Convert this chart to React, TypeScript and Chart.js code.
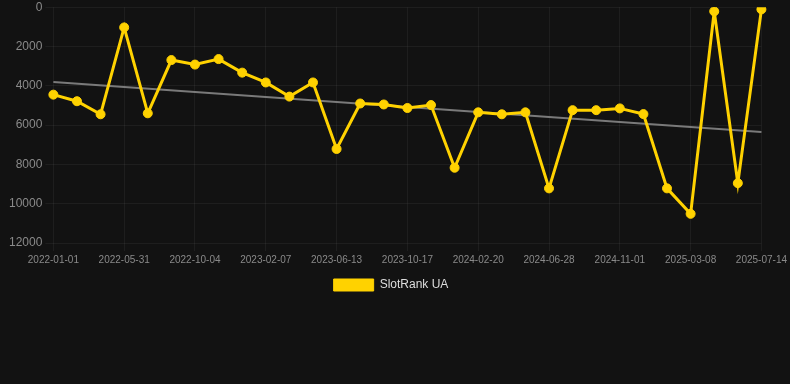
import React, { useEffect, useRef } from "react";
import { Chart, registerables } from "chart.js";

Chart.register(...registerables);

const labels: string[] = [
  "2022-01-01", "2022-02-19", "2022-04-10", "2022-05-31", "2022-07-12", "2022-08-23",
  "2022-10-04", "2022-11-15", "2022-12-27", "2023-02-07", "2023-03-21", "2023-05-02",
  "2023-06-13", "2023-07-25", "2023-09-05", "2023-10-17", "2023-11-28", "2024-01-09",
  "2024-02-20", "2024-04-02", "2024-05-14", "2024-06-28", "2024-08-09", "2024-09-20",
  "2024-11-01", "2024-12-13", "2025-01-24", "2025-03-08", "2025-04-19", "2025-05-31",
  "2025-07-14",
];

const rankValues: number[] = [
  4450, 4785, 5450, 1030, 5400, 2690, 2920, 2640, 3330, 3830, 4550, 3830,
  7215, 4900, 4950, 5130, 4980, 8170, 5350, 5450, 5350, 9220, 5240, 5240,
  5150, 5440, 9220, 10515, 210, 8955, 110,
];

const trendStart = 3805;
const trendEnd = 6350;
const trendValues: (number | null)[] = labels.map((_, i) =>
  i === 0 ? trendStart : i === labels.length - 1 ? trendEnd : null
);

const yTicks = { min: 0, max: 12000, step: 2000 };

const FONT = "Arial, 'Liberation Sans', sans-serif";

export default function App() {
  const ref = useRef<HTMLCanvasElement | null>(null);

  useEffect(() => {
    document.body.style.margin = "0";
    document.body.style.background = "#121212";
    const canvas = ref.current;
    if (!canvas) return;
    const defaultGen = (Chart.defaults.plugins.legend.labels as any).generateLabels;
    const chart = new Chart(canvas, {
      type: "line",
      data: {
        labels,
        datasets: [
          {
            label: "SlotRank UA",
            data: rankValues,
            borderColor: "#FFD200",
            backgroundColor: "#FFD200",
            borderWidth: 3,
            pointRadius: 4.5,
            pointHoverRadius: 4.5,
            pointBorderWidth: 1,
            pointBackgroundColor: "#FFD200",
            pointBorderColor: "#FFD200",
            tension: 0,
            order: 0,
          },
          {
            label: "Trend",
            data: trendValues,
            borderColor: "#7a7a7a",
            backgroundColor: "#7a7a7a",
            borderWidth: 2,
            pointRadius: 0,
            spanGaps: true,
            order: 1,
          },
        ],
      },
      options: {
        animation: false,
        responsive: true,
        maintainAspectRatio: false,
        layout: { padding: { left: 6, right: 14, top: 0, bottom: 0 } },
        scales: {
          x: {
            grid: { color: "rgba(255,255,255,0.05)" },
            border: { display: false },
            ticks: {
              autoSkip: false,
              maxRotation: 0,
              color: "#8a8a8a",
              font: { size: 10, family: FONT },
              callback: (_v: any, i: number) => (i % 3 === 0 ? labels[i] : null),
            },
          },
          y: {
            reverse: true,
            min: yTicks.min,
            max: yTicks.max,
            grid: { color: "rgba(255,255,255,0.05)" },
            border: { display: false },
            ticks: {
              stepSize: yTicks.step,
              color: "#8a8a8a",
              font: { size: 12, family: FONT, lineHeight: 0.7 },
              callback: (v: any) => String(v),
            },
          },
        },
        plugins: {
          legend: {
            position: "bottom",
            labels: {
              color: "#dddddd",
              boxWidth: 40,
              boxHeight: 12,
              font: { size: 12, family: FONT },
              generateLabels: (c: any) =>
                defaultGen(c).map((it: any) => ({ ...it, lineWidth: 1 })),
              filter: (item: any) => item.text !== "Trend",
            },
          },
          tooltip: { enabled: false },
        },
      } as any,
    });
    return () => chart.destroy();
  }, []);

  return (
    <div style={{ width: 790, height: 301, background: "#121212" }}>
      <canvas ref={ref} />
    </div>
  );
}
